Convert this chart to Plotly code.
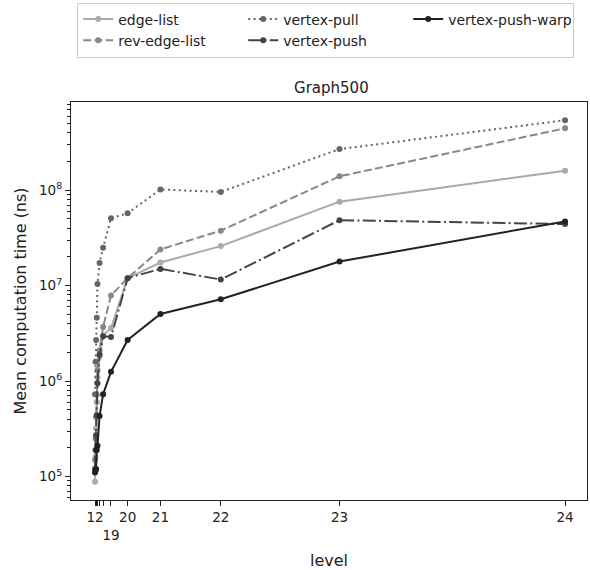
import plotly.graph_objects as go

# ---- data ----
levels = [12, 13, 14, 15, 16, 17, 18, 19, 20, 21, 22, 23, 24]
# graph size (horizontal position, linear axis) for each level
graph_size = [0.0, 0.3, 0.6, 1.0, 1.4, 2.6, 4.6, 9.1, 18.6, 37.3, 71.7, 139.4, 268.0]
tick_labels = ["12", "", "", "", "", "", "", "<br>19", "20", "21", "22", "23", "24"]

edge_list = [8.8e4, 1.6e5, 3.2e5, 6.0e5, 1.1e6, 1.8e6, 3.0e6, 3.6e6, 1.2e7, 1.75e7, 2.6e7, 7.6e7, 1.6e8]
rev_edge_list = [1.5e5, 2.5e5, 4.2e5, 7.2e5, 1.3e6, 2.1e6, 3.7e6, 7.9e6, 1.2e7, 2.4e7, 3.77e7, 1.4e8, 4.46e8]
vertex_pull = [7.3e5, 1.6e6, 2.7e6, 4.6e6, 1.04e7, 1.73e7, 2.5e7, 5.1e7, 5.74e7, 1.02e8, 9.6e7, 2.7e8, 5.42e8]
vertex_push = [1.2e5, 1.9e5, 2.7e5, 4.4e5, 9.5e5, 1.9e6, 2.95e6, 2.9e6, 1.2e7, 1.5e7, 1.16e7, 4.86e7, 4.42e7]
vertex_push_warp = [1.1e5, 1.15e5, 1.2e5, 1.9e5, 2.1e5, 4.3e5, 7.3e5, 1.25e6, 2.7e6, 5.05e6, 7.2e6, 1.79e7, 4.71e7]

series = [
    ("edge-list", edge_list, "#aaaaaa", "solid"),
    ("rev-edge-list", rev_edge_list, "#888888", "8px,3.3px"),
    ("vertex-pull", vertex_pull, "#666666", "2px,3.4px"),
    ("vertex-push", vertex_push, "#444444", "13px,3.3px,2px,3.3px"),
    ("vertex-push-warp", vertex_push_warp, "#222222", "solid"),
]
legend_ranks = {"edge-list": 1, "rev-edge-list": 4, "vertex-pull": 2, "vertex-push": 5, "vertex-push-warp": 3}

fig = go.Figure()
for name, vals, color, dash in series:
    fig.add_trace(go.Scatter(
        x=graph_size, y=vals, name=name, mode="lines+markers",
        line=dict(color=color, width=2, dash=dash),
        marker=dict(color=color, size=6),
        legendrank=legend_ranks[name],
    ))

labeled_x = [x for x, t in zip(graph_size, tick_labels) if t]
labeled_text = [t for t in tick_labels if t]
unlabeled_x = [x for x, t in zip(graph_size, tick_labels) if not t]
minor_vals = [m * 10 ** k for k in range(4, 9) for m in range(2, 10)]

font = "DejaVu Sans"
fig.update_layout(
    width=590, height=570,
    margin=dict(l=71, r=2, t=102, b=64.5),
    paper_bgcolor="white", plot_bgcolor="white",
    font=dict(family=font, size=13.5, color="#222222"),
    title=dict(text="Graph500", x=0.5617, xanchor="center", y=1 - 88 / 570, yanchor="middle",
               font=dict(size=15, color="#222222")),
    showlegend=True,
    legend=dict(orientation="h", x=0.012, xanchor="left", y=1.25, yanchor="top",
                entrywidth=120, entrywidthmode="pixels",
                bordercolor="#cccccc", borderwidth=1, bgcolor="white",
                font=dict(size=14), traceorder="normal"),
    xaxis=dict(
        range=[-13.7, 280.5], tickmode="array", tickvals=labeled_x, ticktext=labeled_text,
        tickangle=0,
        showgrid=False, zeroline=False, showline=True, linecolor="#222222", linewidth=1.2,
        mirror=True, ticks="outside", ticklen=5, tickwidth=1, tickcolor="#222222",
        minor=dict(tickmode="array", tickvals=unlabeled_x, ticks="outside", ticklen=5,
                   tickwidth=1, tickcolor="#222222", showgrid=False),
        title=dict(text="level", standoff=14), tickfont=dict(size=13.5),
    ),
    yaxis=dict(
        type="log", range=[4.754, 8.925], tickmode="array",
        tickvals=[1e5, 1e6, 1e7, 1e8],
        ticktext=["10<sup>5</sup>", "10<sup>6</sup>", "10<sup>7</sup>", "10<sup>8</sup>"],
        showgrid=False, zeroline=False, showline=True, linecolor="#222222", linewidth=1.2,
        mirror=True, ticks="outside", ticklen=5, tickwidth=1, tickcolor="#222222",
        minor=dict(tickmode="array", tickvals=minor_vals, ticks="outside", ticklen=3,
                   tickwidth=0.8, tickcolor="#222222", showgrid=False),
        title=dict(text="Mean computation time (ns)", standoff=8), tickfont=dict(size=13.5),
    ),
)

fig.write_html("out.html")
